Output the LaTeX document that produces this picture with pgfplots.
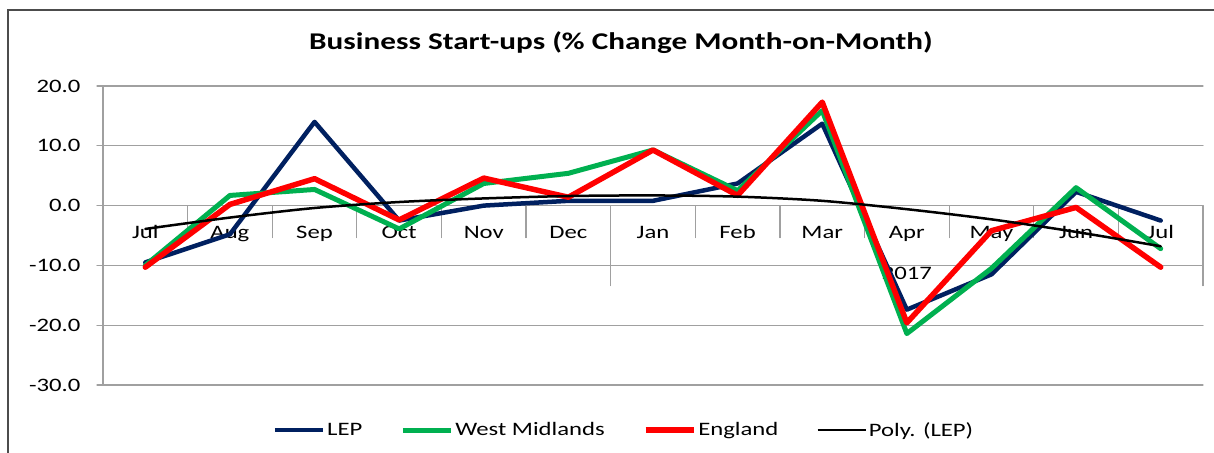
\documentclass[border=0pt]{standalone}
\usepackage{pgfplots}
\pgfplotsset{compat=1.18}
\usepackage{fontspec}
\setmainfont{Carlito}[FakeStretch=1.3]
\definecolor{lep}{HTML}{002060}
\definecolor{wm}{HTML}{00B050}
\definecolor{eng}{HTML}{FF0000}
\definecolor{gridc}{HTML}{A0A0A0}
\newcommand\lbl{\fontsize{19bp}{22bp}\selectfont}
\begin{document}
\begin{tikzpicture}
\useasboundingbox (0,0) rectangle (1214bp,-453bp);
\draw[black!70, line width=1.2bp] (8bp,-470bp) -- (8bp,-10bp) -- (1230bp,-10bp);
\begin{axis}[
  anchor=south west, at={(103bp,-385bp)},
  scale only axis, width=1100bp, height=299bp,
  xmin=-0.5, xmax=12.5, ymin=-30, ymax=20,
  axis line style={draw=none},
  xtick={0,1,2,3,4,5,6,7,8,9,10,11,12},
  xticklabels={Jul,Aug,Sep,Oct,Nov,Dec,Jan,Feb,Mar,Apr,May,Jun,Jul},
  xtick style={draw=none},
  xticklabel style={font=\lbl, anchor=base, yshift=153bp},
  ytick={-30,-20,-10,0,10,20},
  yticklabels={-30.0,-20.0,-10.0,0.0,10.0,20.0},
  ytick pos=left,
  tick align=outside,
  major tick length=6bp,
  ytick style={gridc, line width=1.2bp},
  yticklabel style={font=\lbl, anchor=east, xshift=-13bp},
  ymajorgrids,
  grid style={gridc, line width=1.2bp},
  title={Business Start-ups (\% Change Month-on-Month)},
  title style={font=\fontsize{24bp}{28bp}\selectfont\bfseries, at={(axis description cs:0.4709,1)}, anchor=center, yshift=37bp},
  legend columns=-1,
  legend style={draw=none, font=\lbl, at={(axis description cs:0.4736,-0.1505)}, anchor=center,
    /tikz/every even column/.append style={column sep=36bp}},
  legend image code/.code={\draw[#1] (0bp,0bp) -- (48bp,0bp);},
  clip=false,
  line join=round, line cap=round,
]
\draw[gridc, line width=1.2bp] (axis cs:-0.5,20) -- (axis cs:-0.5,-30);
\draw[gridc, line width=1.2bp] (axis cs:0.5,0) -- ++(0bp,-32bp);
\draw[gridc, line width=1.2bp] (axis cs:1.5,0) -- ++(0bp,-32bp);
\draw[gridc, line width=1.2bp] (axis cs:2.5,0) -- ++(0bp,-32bp);
\draw[gridc, line width=1.2bp] (axis cs:3.5,0) -- ++(0bp,-32bp);
\draw[gridc, line width=1.2bp] (axis cs:4.5,0) -- ++(0bp,-32bp);
\draw[gridc, line width=1.2bp] (axis cs:6.5,0) -- ++(0bp,-32bp);
\draw[gridc, line width=1.2bp] (axis cs:7.5,0) -- ++(0bp,-32bp);
\draw[gridc, line width=1.2bp] (axis cs:8.5,0) -- ++(0bp,-32bp);
\draw[gridc, line width=1.2bp] (axis cs:9.5,0) -- ++(0bp,-32bp);
\draw[gridc, line width=1.2bp] (axis cs:10.5,0) -- ++(0bp,-32bp);
\draw[gridc, line width=1.2bp] (axis cs:11.5,0) -- ++(0bp,-32bp);
\draw[gridc, line width=1.2bp] (axis cs:5.5,0) -- ++(0bp,-80bp);
\draw[gridc, line width=1.2bp] (axis cs:12.5,0) -- ++(0bp,-80bp);
\node[font=\lbl, anchor=center, yshift=-68bp] at (axis cs:9,0) {2017};
\addplot[lep, line width=4.5bp, mark=none] coordinates {
(0,-9.5)(1,-4.8)(2,14.0)(3,-2.5)(4,0.0)(5,0.8)(6,0.8)(7,3.7)(8,13.7)(9,-17.4)(10,-11.5)(11,2.3)(12,-2.5)};
\addlegendentry{LEP}
\addplot[wm, line width=5bp, mark=none] coordinates {
(0,-10.0)(1,1.7)(2,2.7)(3,-3.9)(4,3.7)(5,5.4)(6,9.3)(7,2.5)(8,15.9)(9,-21.4)(10,-10.5)(11,3.0)(12,-7.2)};
\addlegendentry{West Midlands}
\addplot[eng, line width=5.5bp, mark=none] coordinates {
(0,-10.3)(1,0.2)(2,4.5)(3,-2.4)(4,4.6)(5,1.4)(6,9.3)(7,1.7)(8,17.3)(9,-19.6)(10,-4.2)(11,-0.3)(12,-10.3)};
\addlegendentry{England}
\addplot[black, line width=2.5bp, mark=none, smooth] coordinates {
(0,-3.9)(1,-2.0)(2,-0.4)(3,0.6)(4,1.2)(5,1.6)(6,1.7)(7,1.5)(8,0.8)(9,-0.6)(10,-2.3)(11,-4.4)(12,-6.8)};
\addlegendentry{Poly. (LEP)}
\end{axis}
\end{tikzpicture}
\end{document}
